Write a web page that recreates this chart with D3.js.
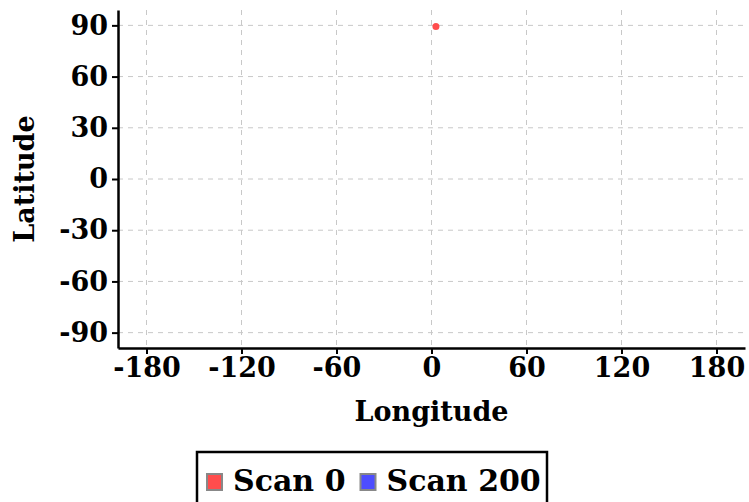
<!DOCTYPE html>
<html>
<head>
<meta charset="utf-8">
<script src="https://cdn.jsdelivr.net/npm/d3@7"></script>
<style>
  body { margin: 0; background: #fff; }
  svg { display: block; font-family: "DejaVu Serif", serif; font-weight: bold; }
  .grid line { stroke: #c8c8c8; stroke-dasharray: 5,5; }
</style>
</head>
<body>
<svg width="749" height="502"></svg>
<script>
// data
var seriesNames = ["Scan 0", "Scan 200"];
var seriesColors = ["#ff4d4d", "#4d4dff"];
var scan0 = [[2.8, 89.3]];   // [lon, lat]
var scan200 = [];
var xTicks = [-180, -120, -60, 0, 60, 120, 180];
var yTicks = [-90, -60, -30, 0, 30, 60, 90];

var svg = d3.select("svg");
var margin = { left: 118, right: 4, top: 10, bottom: 154 };
var width = 749 - margin.left - margin.right,
    height = 502 - margin.top - margin.bottom;

var x = d3.scaleLinear().domain([-198, 198]).range([0, width]);
var y = d3.scaleLinear().domain([-99, 99]).range([height, 0]);

var g = svg.append("g")
    .attr("transform", "translate(" + margin.left + "," + margin.top + ")");

// grid
g.append("g").attr("class", "grid")
  .selectAll("line").data(xTicks).enter().append("line")
    .attr("x1", d => x(d)).attr("x2", d => x(d))
    .attr("y1", 0).attr("y2", height);
g.append("g").attr("class", "grid")
  .selectAll("line").data(yTicks).enter().append("line")
    .attr("y1", d => y(d)).attr("y2", d => y(d))
    .attr("x1", 0).attr("x2", width);

// axes (plain hyphen for negatives)
var fmt = function(d) { return String(d); };
var xAxis = g.append("g")
    .attr("transform", "translate(0," + height + ")")
    .call(d3.axisBottom(x).tickValues(xTicks).tickFormat(fmt).tickSize(6).tickSizeOuter(0).tickPadding(4));
var yAxis = g.append("g")
    .call(d3.axisLeft(y).tickValues(yTicks).tickFormat(fmt).tickSize(6).tickSizeOuter(0).tickPadding(4));

[xAxis, yAxis].forEach(function(a) {
  a.select(".domain").attr("stroke", "#000").attr("stroke-width", 2.5);
  a.selectAll(".tick line").attr("stroke", "#000").attr("stroke-width", 2);
  a.selectAll("text")
    .attr("fill", "#000")
    .style("font-family", "DejaVu Serif, serif")
    .style("font-weight", "bold")
    .style("font-size", "27px");
});

// axis titles
svg.append("text")
  .attr("x", margin.left + x(0))
  .attr("y", 421)
  .attr("text-anchor", "middle")
  .style("font-size", "27px")
  .text("Longitude");

svg.append("text")
  .attr("transform", "translate(34," + (margin.top + y(0)) + ") rotate(-90)")
  .attr("text-anchor", "middle")
  .style("font-size", "27px")
  .text("Latitude");

// points
var allSeries = [scan0, scan200];
allSeries.forEach(function(pts, i) {
  g.selectAll(".pt" + i).data(pts).enter().append("circle")
    .attr("class", "pt" + i)
    .attr("cx", d => x(d[0]))
    .attr("cy", d => y(d[1]))
    .attr("r", 3.5)
    .attr("fill", seriesColors[i]);
});

// legend
var legend = svg.append("g").attr("transform", "translate(197,452)");
legend.append("rect")
  .attr("width", 350).attr("height", 60)
  .attr("fill", "#fff").attr("stroke", "#000").attr("stroke-width", 2.5);

var lx = 10;
seriesNames.forEach(function(name, i) {
  var item = legend.append("g").attr("transform", "translate(" + lx + ",0)");
  item.append("rect")
    .attr("x", 0).attr("y", 22).attr("width", 15).attr("height", 16)
    .attr("fill", seriesColors[i]).attr("stroke", "#888").attr("stroke-width", 2);
  var t = item.append("text")
    .attr("x", 26).attr("y", 39)
    .style("font-size", "30px")
    .text(name);
  lx += 26 + t.node().getComputedTextLength() + 15;
});
</script>
</body>
</html>
